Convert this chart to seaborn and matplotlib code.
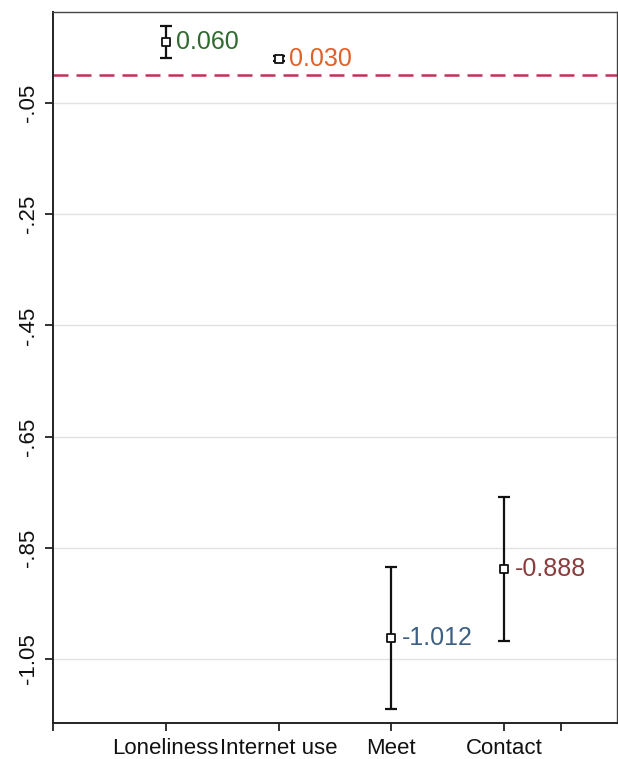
import matplotlib
matplotlib.use("Agg")
import matplotlib.pyplot as plt
import seaborn as sns
import pandas as pd

# Estimates with 95% confidence bounds
categories = ["Loneliness", "Internet use", "Meet", "Contact"]
estimates = [0.060, 0.030, -1.012, -0.888]
ci_low = [0.031, 0.026, -1.140, -1.018]
ci_high = [0.089, 0.034, -0.884, -0.758]
label_colors = ["#2f6a2f", "#e0602a", "#3d5f82", "#8a3c3c"]
y_ticks = [-0.05, -0.25, -0.45, -0.65, -0.85, -1.05]
y_tick_labels = ["-.05", "-.25", "-.45", "-.65", "-.85", "-1.05"]

sns.set_theme(style="white")
plt.rcParams["font.family"] = ["Liberation Sans", "DejaVu Sans"]

df = pd.DataFrame({
    "pos": list(range(1, len(categories) + 1)),
    "estimate": estimates,
    "low": ci_low,
    "high": ci_high,
})

fig = plt.figure(figsize=(6.18, 7.59), dpi=100)
ax = fig.add_axes([0.0858, 0.0474, 0.9125, 0.9368])

# light horizontal grid at the tick values
for yv in y_ticks:
    ax.axhline(yv, color="#e3e3e3", lw=1.0, zorder=0)

# reference line at zero
ax.axhline(0, color="#c2305a", lw=1.8, ls=(0, (6, 3.2)), zorder=1)

# confidence intervals
ax.errorbar(df["pos"], df["estimate"],
            yerr=[df["estimate"] - df["low"], df["high"] - df["estimate"]],
            fmt="none", ecolor="#111111", elinewidth=1.6, capsize=4.5,
            capthick=1.6, zorder=2)

# point estimates as hollow squares
sns.scatterplot(data=df, x="pos", y="estimate", marker="s", s=30,
                facecolor="white", edgecolor="#111111", linewidth=1.3,
                ax=ax, zorder=3, legend=False)

# value labels
for x, v, c in zip(df["pos"], estimates, label_colors):
    ax.annotate(f"{v:.3f}", (x, v), xytext=(7.5, 0), textcoords="offset points",
                ha="left", va="center", fontsize=18, color=c, zorder=4)

ax.set_xlim(0, 5)
ax.set_ylim(-1.165, 0.1137)
ax.set_xticks([0, 1, 2, 3, 4, 4.5])
ax.set_xticklabels([""] + categories + [""], fontsize=16, color="#111111")
ax.set_yticks(y_ticks)
ax.set_yticklabels(y_tick_labels, rotation=90, va="center", fontsize=16,
                   color="#111111")
ax.set_xlabel("")
ax.set_ylabel("")

for side in ["left", "bottom", "top", "right"]:
    ax.spines[side].set_visible(True)
    ax.spines[side].set_color("#222222")
    ax.spines[side].set_linewidth(1.4)
ax.spines["top"].set_color("#444444")
ax.spines["right"].set_color("#444444")
ax.spines["top"].set_linewidth(1.0)
ax.spines["right"].set_linewidth(1.0)

ax.tick_params(axis="both", which="both", direction="out", length=6,
               width=1.3, color="#222222", pad=4)
ax.tick_params(axis="x", pad=5)
ax.tick_params(left=True, bottom=True)

fig.savefig("out.png", dpi=100)
